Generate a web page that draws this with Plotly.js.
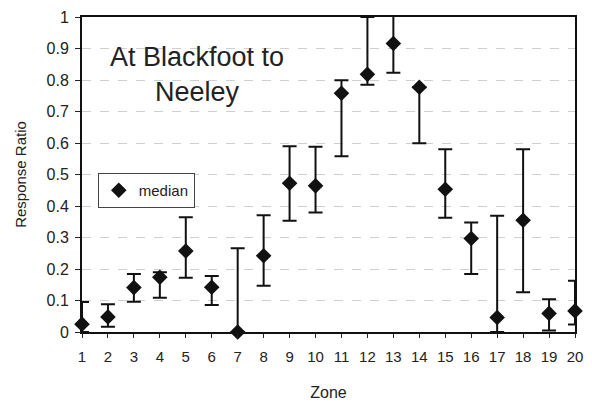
<!DOCTYPE html>
<html><head><meta charset="utf-8">
<script src="https://cdn.plot.ly/plotly-3.0.1.min.js"></script>
<style>html,body{margin:0;padding:0;background:#fff}</style>
</head><body><div id="c" style="width:592px;height:406px"></div>
<script>
const zones = [1,2,3,4,5,6,7,8,9,10,11,12,13,14,15,16,17,18,19,20];
const median = [0.025,0.048,0.141,0.174,0.257,0.142,0.0,0.242,0.472,0.464,0.758,0.818,0.916,0.777,0.453,0.297,0.046,0.355,0.059,0.067];
const upper  = [0.095,0.088,0.184,0.19,0.364,0.178,0.266,0.371,0.59,0.588,0.799,1.0,1.005,0.777,0.58,0.348,0.369,0.58,0.104,0.163];
const lower  = [0.0,0.017,0.096,0.109,0.172,0.086,0.0,0.147,0.353,0.379,0.558,0.785,0.823,0.599,0.363,0.184,0.0,0.126,0.005,0.024];
const yTicks = [0,0.1,0.2,0.3,0.4,0.5,0.6,0.7,0.8,0.9,1];
const yTickText = ['0','0.1','0.2','0.3','0.4','0.5','0.6','0.7','0.8','0.9','1'];

const plus = upper.map((u,i)=>Math.max(0,u-median[i]));
const minus = lower.map((l,i)=>Math.max(0,median[i]-l));

const trace = {
  x: zones, y: median, type:'scatter', mode:'markers', name:'median',
  marker:{symbol:'diamond', size:12, color:'#111'},
  error_y:{type:'data', symmetric:false, array:plus, arrayminus:minus, color:'#111', thickness:2, width:7},
  cliponaxis:false
};
const fam = 'Arial, Liberation Sans, sans-serif';
const f = s => ({family:fam, size:s, color:'#222'});
const layout = {
  width:592, height:406,
  margin:{l:82, r:17, t:17, b:74},
  paper_bgcolor:'#fff', plot_bgcolor:'#fff',
  font: f(15),
  showlegend:true,
  legend:{x:0.032, y:0.505, xanchor:'left', yanchor:'top', bordercolor:'#444', borderwidth:1, bgcolor:'#fff',
          font:f(15), itemwidth:30, tracegroupgap:0},
  xaxis:{range:[1,20], tickvals:zones, ticktext:zones.map(String), ticks:'outside', ticklen:4, tickcolor:'#222',
         showline:true, linecolor:'#111', linewidth:2, mirror:true, showgrid:false, zeroline:false,
         tickfont:f(15), ticklabelstandoff:6,
         title:{text:'Zone', font:f(16), standoff:23}},
  yaxis:{range:[0,1], tickvals:yTicks, ticktext:yTickText, ticks:'outside', ticklen:5, tickcolor:'#222',
         showline:true, linecolor:'#111', linewidth:2, mirror:true, zeroline:false,
         showgrid:true, gridcolor:'#cfcfcf', griddash:'dash', gridwidth:1,
         tickfont:f(16), ticklabelstandoff:3,
         title:{text:'Response Ratio', font:f(15), standoff:16}},
  annotations:[{xref:'paper', yref:'paper', x:0.233, y:0.928, xanchor:'center', yanchor:'top',
    text:'At Blackfoot to<br>Neeley', showarrow:false, align:'center',
    font:f(27)}]
};
Plotly.newPlot('c',[trace],layout,{displayModeBar:false});
</script></body></html>
